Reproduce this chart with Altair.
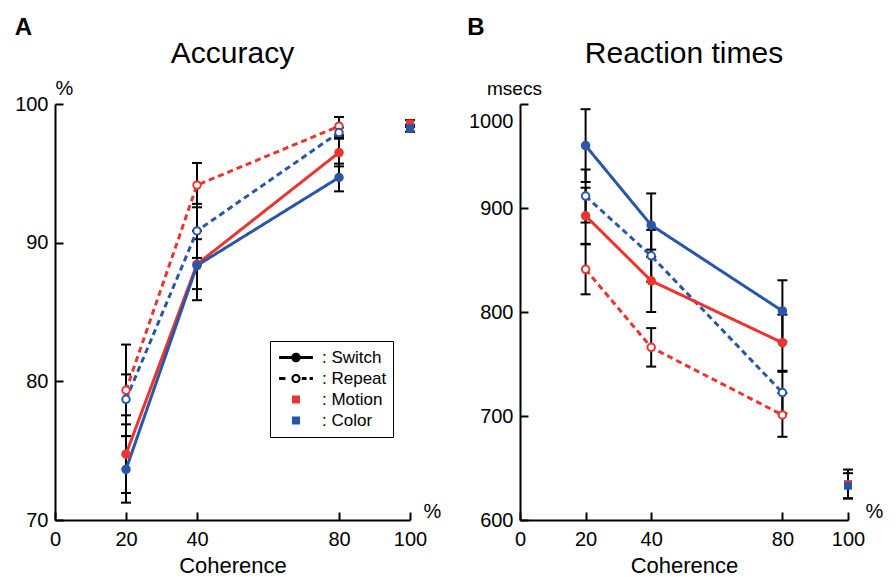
import altair as alt
import pandas as pd

FONT = "Liberation Sans"
RED = "#EA3530"
BLUE = "#2B56A8"

coherence = [20, 40, 80]
tasks = ["Motion", "Color"]
trials = ["Switch", "Repeat"]
task_colors = {"Motion": RED, "Color": BLUE}

# ---- Panel A: accuracy (%) ----
acc_motion_switch = [74.75, 88.45, 96.5]
acc_motion_switch_err = [2.8, 1.8, 1.0]
acc_color_switch = [73.65, 88.35, 94.7]
acc_color_switch_err = [2.4, 2.5, 1.0]
acc_motion_repeat = [79.35, 94.15, 98.4]
acc_motion_repeat_err = [3.3, 1.6, 0.66]
acc_color_repeat = [78.7, 90.85, 97.95]
acc_color_repeat_err = [1.8, 1.95, 0.35]
acc_full = [98.6, 98.25]          # Motion, Color at 100 % coherence
acc_full_err = [0.25, 0.25]

# ---- Panel B: reaction times (msecs) ----
rt_motion_switch = [892.5, 830.0, 770.5]
rt_motion_switch_err = [27, 30, 27]
rt_color_switch = [960.0, 883.5, 801.0]
rt_color_switch_err = [35, 30.5, 29.5]
rt_motion_repeat = [841.0, 766.0, 701.0]
rt_motion_repeat_err = [24, 18.5, 21]
rt_color_repeat = [911.5, 854.0, 722.5]
rt_color_repeat_err = [25.5, 25, 20]
rt_full = [634.5, 633.0]
rt_full_err = [14, 12]

legend_keys = [": Switch", ": Repeat", ": Motion", ": Color"]
legend_colors = ["black", "black", RED, BLUE]


def build_tables(ms, mse, cs, cse, mr, mre, cr, cre, full, full_err):
    rows = []
    series = [("Motion", "Repeat", mr, mre), ("Color", "Repeat", cr, cre),
              ("Motion", "Switch", ms, mse), ("Color", "Switch", cs, cse)]
    for task, trial, vals, errs in series:
        for c, v, e in zip(coherence, vals, errs):
            rows.append({"coh": c, "val": v, "lo": v - e, "hi": v + e,
                         "task": task, "trial": trial,
                         "series": task + trial, "hex": task_colors[task]})
    df = pd.DataFrame(rows)
    frows = []
    for task, v, e in zip(tasks, full, full_err):
        frows.append({"coh": 100, "val": v, "lo": v - e, "hi": v + e,
                      "task": task, "hex": task_colors[task]})
    return df, pd.DataFrame(frows)


acc_df, acc_full_df = build_tables(acc_motion_switch, acc_motion_switch_err,
                                   acc_color_switch, acc_color_switch_err,
                                   acc_motion_repeat, acc_motion_repeat_err,
                                   acc_color_repeat, acc_color_repeat_err,
                                   acc_full, acc_full_err)
rt_df, rt_full_df = build_tables(rt_motion_switch, rt_motion_switch_err,
                                 rt_color_switch, rt_color_switch_err,
                                 rt_motion_repeat, rt_motion_repeat_err,
                                 rt_color_repeat, rt_color_repeat_err,
                                 rt_full, rt_full_err)

HEIGHT = 416
TICK_IN = {"expr": "-8"}


def panel(df, full_df, ydomain, yticks, width, title, letter, letter_dx,
          yunit, yunit_dx, yunit_size, pct_dx, top_label_offset=0, legend=False):
    xaxis = alt.Axis(values=[0, 20, 40, 80, 100], title="Coherence", grid=False,
                     labelFlush=False, labelOverlap=False, labelFontSize=20,
                     labelColor="black", labelFont=FONT, labelPadding=17,
                     domainColor="black", domainWidth=2, tickColor="black",
                     tickWidth=2, tickSize=TICK_IN, titleFont=FONT,
                     titleFontSize=22, titleFontWeight="normal",
                     titleColor="black", titleY=45, titleBaseline="middle")
    ylabel_offset = {"condition": {"test": "datum.value == %d" % yticks[-1],
                                   "value": top_label_offset}, "value": 0}
    yaxis = alt.Axis(values=yticks, format="d", title=yunit, grid=False,
                     labelFontSize=20, labelColor="black", labelFont=FONT,
                     labelPadding=15, labelOffset=ylabel_offset,
                     domainColor="black", domainWidth=2, tickColor="black",
                     tickWidth=2, tickSize=TICK_IN, titleFont=FONT,
                     titleFontSize=yunit_size, titleFontWeight="normal",
                     titleColor="black", titleAngle=0, titleAlign="center",
                     titleBaseline="middle", titleX=yunit_dx, titleY=-16)
    xs = alt.Scale(domain=[0, 100], nice=False, zero=False)
    ys = alt.Scale(domain=ydomain, nice=False, zero=False)

    def X():
        return alt.X("coh:Q", scale=xs, axis=xaxis)

    def Y(field):
        return alt.Y(field + ":Q", scale=ys, axis=yaxis)

    err_all = pd.concat([df[["coh", "lo", "hi"]], full_df[["coh", "lo", "hi"]]])
    base_err = alt.Chart(err_all)
    rules = base_err.mark_rule(color="black", strokeWidth=2).encode(
        x=X(), y=Y("lo"), y2="hi:Q")
    cap_lo = base_err.mark_tick(color="black", orient="horizontal", size=10,
                                thickness=2, opacity=1).encode(x=X(), y=Y("lo"))
    cap_hi = base_err.mark_tick(color="black", orient="horizontal", size=10,
                                thickness=2, opacity=1).encode(x=X(), y=Y("hi"))

    lines = alt.Chart(df).mark_line(strokeWidth=3).encode(
        x=X(), y=Y("val"),
        stroke=alt.Stroke("hex:N", scale=None),
        strokeDash=alt.StrokeDash("trial:N",
                                  scale=alt.Scale(domain=trials, range=[[1, 0], [6, 4]]),
                                  legend=None),
        detail="series:N")
    filled = alt.Chart(df).transform_filter("datum.trial == 'Switch'").mark_circle(
        size=90, opacity=1).encode(x=X(), y=Y("val"), fill=alt.Fill("hex:N", scale=None))
    opened = alt.Chart(df).transform_filter("datum.trial == 'Repeat'").mark_point(
        shape="circle", size=56, strokeWidth=2, fill="white", opacity=1).encode(
        x=X(), y=Y("val"), stroke=alt.Stroke("hex:N", scale=None))
    squares = alt.Chart(full_df).mark_square(size=64, opacity=1).encode(
        x=X(), y=Y("val"), fill=alt.Fill("hex:N", scale=None))

    one = pd.DataFrame({"t": ["x"]})
    pct = alt.Chart(one).mark_text(text="%", font=FONT, fontSize=20, color="black",
                                   align="center", baseline="middle").encode(
        x=alt.value(width + pct_dx), y=alt.value(HEIGHT - 8))
    let = alt.Chart(one).mark_text(text=letter, font=FONT, fontSize=24,
                                   fontWeight="bold", color="black",
                                   align="center", baseline="middle").encode(
        x=alt.value(letter_dx), y=alt.value(-76.5))
    ttl = alt.Chart(one).mark_text(text=title, font=FONT, fontSize=30,
                                   color="black", align="center",
                                   baseline="alphabetic").encode(
        x=alt.value(width / 2), y=alt.value(-41))

    layers = [rules, cap_lo, cap_hi, lines, filled, opened, squares, pct, let, ttl]

    if legend:
        s = 0.088
        switch_path = (f"M-1 {-s} H-0.25 V{s} H-1 Z M0.25 {-s} H1 V{s} H0.25 Z "
                       "M-0.28 0 A0.28 0.28 0 1 1 0.28 0 A0.28 0.28 0 1 1 -0.28 0 Z")
        repeat_path = (f"M-1 {-s} H-0.62 V{s} H-1 Z M0.34 {-s} H0.62 V{s} H0.34 Z "
                       f"M0.8 {-s} H1 V{s} H0.8 Z "
                       "M-0.27 0 A0.27 0.27 0 1 1 0.27 0 A0.27 0.27 0 1 1 -0.27 0 Z "
                       "M-0.15 0 A0.15 0.15 0 1 0 0.15 0 A0.15 0.15 0 1 0 -0.15 0 Z")
        sq = "M-0.235 -0.235 H0.235 V0.235 H-0.235 Z"
        leg = alt.Legend(title=None, orient="none", legendX=215, legendY=237,
                         direction="vertical", padding=6, strokeColor="black",
                         clipHeight=21, rowPadding=0, symbolSize=1156,
                         symbolOffset=3, symbolStrokeWidth=0, symbolOpacity=1,
                         labelOffset=9, labelFontSize=17, labelFont=FONT,
                         labelColor="black")
        ldf = pd.DataFrame({"key": legend_keys})
        legend_layer = alt.Chart(ldf).mark_point(filled=True, opacity=0).encode(
            x=alt.value(0), y=alt.value(0),
            color=alt.Color("key:N", scale=alt.Scale(domain=legend_keys,
                                                     range=legend_colors), legend=leg),
            shape=alt.Shape("key:N", scale=alt.Scale(domain=legend_keys,
                                                     range=[switch_path, repeat_path, sq, sq]),
                            legend=leg))
        layers.append(legend_layer)

    return alt.layer(*layers).properties(width=width, height=HEIGHT)


pA = panel(acc_df, acc_full_df, [70, 100], [70, 80, 90, 100], 355, "Accuracy",
           "A", -31.5, "%", 9, 20, 22.5, legend=True)
pB = panel(rt_df, rt_full_df, [600, 1000], [600, 700, 800, 900, 1000], 328,
           "Reaction times", "B", -44, "msecs", -6, 19, 26.5, top_label_offset=17)

chart = alt.hconcat(pA, pB, spacing=110, bounds="flush").properties(
    padding={"left": 5, "top": 6, "right": 0, "bottom": 0}
).configure(font=FONT).configure_view(stroke="#ffffff", strokeWidth=3)

chart.save("out.html", embed_options={"renderer": "svg", "actions": False})
